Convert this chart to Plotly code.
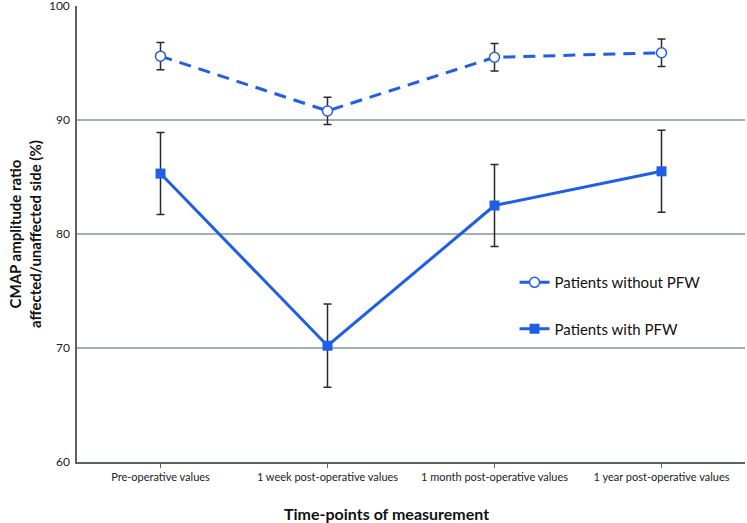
import plotly.graph_objects as go

categories = ["Pre-operative values", "1 week post-operative values",
              "1 month post-operative values", "1 year post-operative values"]
without_pfw = [95.6, 90.8, 95.5, 95.9]
without_pfw_err = [1.2, 1.2, 1.2, 1.2]
with_pfw = [85.3, 70.2, 82.5, 85.5]
with_pfw_err = [3.6, 3.65, 3.6, 3.6]
y_ticks = [60, 70, 80, 90, 100]

blue = "#1f5ee6"
err_color = "#2a2a2a"
font = "Lato"

x_idx = list(range(len(categories)))

fig = go.Figure()
fig.add_trace(go.Scatter(
    x=x_idx, y=without_pfw, name="Patients without PFW", mode="lines+markers",
    line=dict(color=blue, width=3, dash="12px,8px"),
    marker=dict(symbol="circle", size=10, color="white", line=dict(color=blue, width=1.5)),
    error_y=dict(type="data", array=without_pfw_err, color=err_color, thickness=1.5, width=4),
    legendgroup="a",
))
fig.add_trace(go.Scatter(
    x=x_idx, y=with_pfw, name="Patients with PFW", mode="lines+markers",
    line=dict(color=blue, width=3),
    marker=dict(symbol="square", size=10, color=blue),
    error_y=dict(type="data", array=with_pfw_err, color=err_color, thickness=1.5, width=4),
    legendgroup="b",
))

fig.update_layout(
    width=747, height=523,
    margin=dict(l=77, r=2, t=6, b=61, autoexpand=False),
    paper_bgcolor="white", plot_bgcolor="white",
    font=dict(family=font, color="#1a1a1a"),
    showlegend=True,
    legend=dict(x=0.655, y=0.343, xanchor="left", yanchor="middle",
                bgcolor="rgba(0,0,0,0)", font=dict(size=15, family=font, color="#111"),
                traceorder="grouped", tracegroupgap=24, itemwidth=30),
    xaxis=dict(
        range=[-0.5, 3.5], tickmode="array", tickvals=x_idx, ticktext=categories,
        showgrid=False, zeroline=False, showline=True, linecolor="#5a6468", linewidth=1.5,
        ticks="outside", ticklen=4, tickcolor="#5a6468", automargin=False,
        tickfont=dict(size=11, family=font, color="#222"),
    ),
    yaxis=dict(
        range=[60, 100], tickvals=y_ticks, showgrid=True, gridcolor="#a6aeae", gridwidth=1.5,
        zeroline=False, showline=True, linecolor="#5a6468", linewidth=1.5, automargin=False,
        ticks="", tickfont=dict(size=12, family=font, color="#222"), ticklabelstandoff=3,
        ticklabeloverflow="allow",
    ),
    annotations=[
        dict(text="<b>Time-points of measurement</b>", xref="paper", yref="paper",
             x=(386 - 77) / 668, y=-(513 - 462) / 456, xanchor="center", yanchor="middle",
             showarrow=False, font=dict(size=16, family=font, color="#111")),
        dict(text="<b>CMAP amplitude ratio<br>affected/unaffected side (%)</b>", xref="paper",
             yref="paper", x=-(77 - 25) / 668, y=0.5, xanchor="center", yanchor="middle",
             textangle=-90, showarrow=False, font=dict(size=15, family=font, color="#111")),
    ],
)

fig.write_html("out.html", config={"displayModeBar": False},
               post_script="document.body.style.margin='0';document.body.style.padding='0';")
